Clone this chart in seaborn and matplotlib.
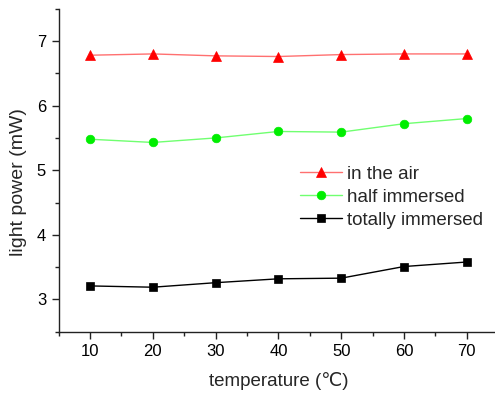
import matplotlib
matplotlib.use("Agg")
import matplotlib.pyplot as plt
import seaborn as sns
import pandas as pd
from matplotlib.ticker import MultipleLocator

# Measured light power at each temperature
temperature = [10, 20, 30, 40, 50, 60, 70]
in_air = [6.78, 6.80, 6.77, 6.76, 6.79, 6.80, 6.80]
half_immersed = [5.48, 5.43, 5.50, 5.60, 5.59, 5.72, 5.80]
totally_immersed = [3.21, 3.19, 3.26, 3.32, 3.33, 3.51, 3.58]

series_names = ["in the air", "half immersed", "totally immersed"]
series_values = [in_air, half_immersed, totally_immersed]
line_colors = ["#ff7070", "#70ff70", "#000000"]
marker_colors = ["#ff0000", "#00ee00", "#000000"]
markers = ["^", "o", "s"]
marker_sizes = [7.2, 6.2, 5.4]

sns.set_theme(style="ticks")
plt.rcParams["font.family"] = ["Liberation Sans", "DejaVu Sans"]

fig = plt.figure(figsize=(4.95, 3.95), dpi=100)
ax = fig.add_axes([0.1184, 0.16, 0.888, 0.818])

for name, vals, lc, mc, mk, ms in zip(series_names, series_values, line_colors,
                                       marker_colors, markers, marker_sizes):
    df = pd.DataFrame({"temperature": temperature, "power": vals})
    sns.lineplot(data=df, x="temperature", y="power", ax=ax, label=name,
                 color=lc, linewidth=1.0, marker=mk, markersize=ms,
                 markerfacecolor=mc, markeredgecolor=mc, markeredgewidth=0.5)

ax.set_xlim(5, 75)
ax.set_ylim(2.5, 7.5)
ax.xaxis.set_major_locator(MultipleLocator(10))
ax.xaxis.set_minor_locator(MultipleLocator(5))
ax.yaxis.set_major_locator(MultipleLocator(1))
ax.yaxis.set_minor_locator(MultipleLocator(0.5))
ax.tick_params(which="major", direction="out", length=5, width=1,
               labelsize=12, colors="#222222", pad=4)
ax.tick_params(which="minor", direction="out", length=3, width=1, colors="#222222")
ax.tick_params(labelcolor="black")

for side in ["top", "right"]:
    ax.spines[side].set_visible(False)
for side in ["left", "bottom"]:
    ax.spines[side].set_linewidth(1.0)
    ax.spines[side].set_color("#222222")

ax.set_xlabel("temperature (\u2103)", fontsize=13.5, labelpad=9)
ax.set_ylabel("light power (mW)", fontsize=14)
ax.yaxis.set_label_coords(-0.071, 0.464)

leg = ax.legend(loc="upper left", bbox_to_anchor=(0.55, 0.515), frameon=False,
                fontsize=13.5, handlelength=2.2, handletextpad=0.3,
                labelspacing=0.32, borderaxespad=0, borderpad=0)

fig.savefig("out.png", dpi=100)
